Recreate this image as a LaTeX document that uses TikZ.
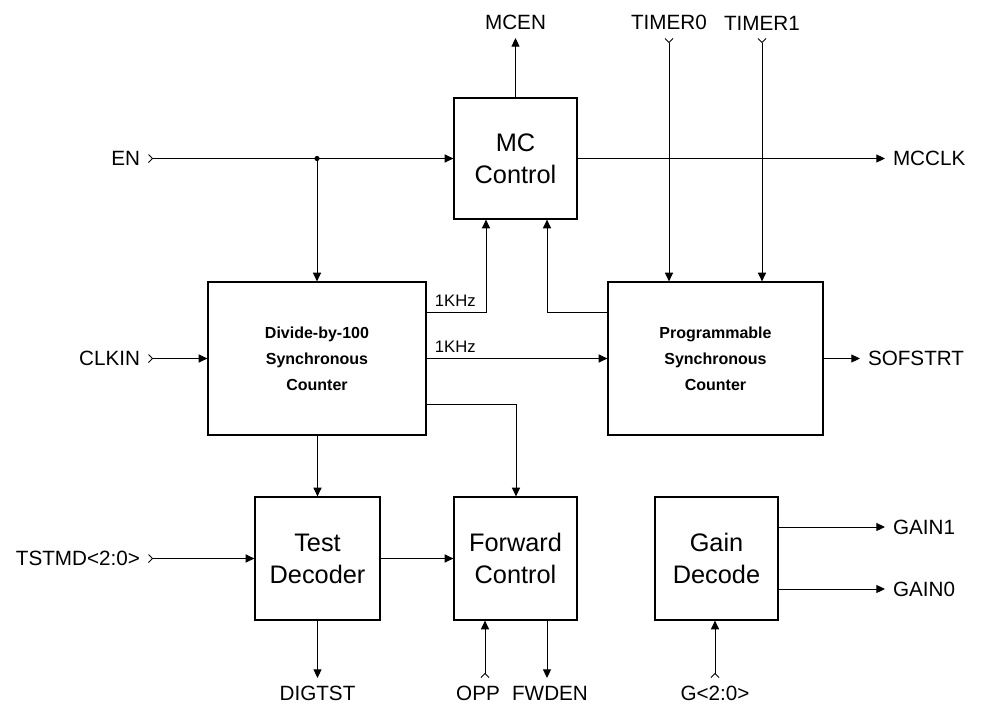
\documentclass[tikz,border=0pt]{standalone}
\usepackage{fontspec}
\setmainfont{Liberation Sans}
\usetikzlibrary{arrows.meta}

\begin{document}
\begin{tikzpicture}[x=0.75pt, y=-0.75pt, >={Triangle[length=6.5pt,width=6pt]},
	blk/.style={draw, line width=0.9pt, inner sep=0pt, align=center,
		font=\fontsize{19}{24}\selectfont},
	cntblk/.style={blk, font=\bfseries\fontsize{12}{19.5}\selectfont},
	sigtxt/.style={inner sep=0pt, outer sep=6pt, font=\fontsize{15.5}{18}\selectfont},
	freqtxt/.style={inner sep=0pt, font=\fontsize{12.5}{14}\selectfont},
	wire/.style={line width=0.75pt},
	inwire/.style={wire, {Straight Barb[reversed,length=3pt,width=6pt]}->}]
\useasboundingbox (0,0) rectangle (993,711);
%========================
% blocks
%========================
\node[blk, minimum width=92.25pt, minimum height=90.75pt] (mc) at (515.5,158.5) {MC\\Control};
\node[cntblk, minimum width=163.5pt, minimum height=114.75pt] (div) at (317,358.5) {Divide-by-100\\Synchronous\\Counter};
\node[cntblk, minimum width=161.25pt, minimum height=114.75pt] (prog) at (715.5,358.5) {Programmable\\Synchronous\\Counter};
\node[blk, minimum width=93.75pt, minimum height=92.25pt] (test) at (317.5,558.5) {Test\\Decoder};
\node[blk, minimum width=92.25pt, minimum height=92.25pt] (fwd) at (515.5,558.5) {Forward\\Control};
\node[blk, minimum width=92.25pt, minimum height=92.25pt] (gain) at (716.5,558.5) {Gain\\Decode};

%========================
% pin names
%========================
\node[sigtxt, anchor=east] (en) at (148,158.5) {EN};
\node[sigtxt, anchor=east] (clkin) at (148,358.5) {CLKIN};
\node[sigtxt, anchor=east] (tstmd) at (148,558.5) {TSTMD<2:0>};
\node[sigtxt, anchor=south] (mcen) at (515.5,38) {MCEN};
\node[sigtxt, anchor=south] (timer0) at (669,38) {TIMER0};
\node[sigtxt, anchor=south] (timer1) at (762,38) {TIMER1};
\node[sigtxt, anchor=west] (mcclk) at (885,158.5) {MCCLK};
\node[sigtxt, anchor=west] (sofstrt) at (860,358.5) {SOFSTRT};
\node[sigtxt, anchor=west] (gain1) at (885,527) {GAIN1};
\node[sigtxt, anchor=west] (gain0) at (885,589) {GAIN0};
\node[sigtxt, anchor=north] (digtst) at (317.5,678) {DIGTST};
\node[sigtxt, anchor=north] (opp) at (478,678) {OPP};
\node[sigtxt, anchor=north] (fwden) at (550,678) {FWDEN};
\node[sigtxt, anchor=north] (gbus) at (715,678) {G<2:0>};

% bend points
\coordinate (split) at (317,158.5);
\coordinate (k1) at (486,312);
\coordinate (k2) at (547,312);
\coordinate (k3) at (516,404);
\coordinate (oppin) at (485,678);
\coordinate (fwdout) at (547,678);

%========================
% wires
%========================
\draw[inwire] (en) -- (mc);
\fill (split) circle (2.6);
\draw[wire, ->] (split) -- (div.north);
\draw[inwire] (clkin) -- (div);
\draw[inwire] (tstmd) -- (test);
\draw[wire, ->] (mc) -- (mcen);
\draw[inwire] (timer0) -- (timer0 |- prog.north);
\draw[inwire] (timer1) -- (timer1 |- prog.north);
\draw[wire, ->] (mc) -- (mcclk);
\draw[wire, ->] (prog) -- (sofstrt);

% 1KHz clocks
\draw[wire, ->] (k1 -| div.east) -- (k1) -- (k1 |- mc.south);
\node[freqtxt, anchor=south west] at ([xshift=6pt, yshift=4pt]k1 -| div.east) {1KHz};
\draw[wire, ->] (div) -- (prog);
\node[freqtxt, anchor=south west] at ([xshift=6pt, yshift=4pt]div.east) {1KHz};
\draw[wire, ->] (k2 -| prog.west) -- (k2) -- (k2 |- mc.south);

% lower row
\draw[wire, ->] (div.south -| test.north) -- (test.north);
\draw[wire, ->] (k3 -| div.east) -- (k3) -- (k3 |- fwd.north);
\draw[wire, ->] (test) -- (fwd);
\draw[wire, ->] (test.south) -- (digtst);
\draw[inwire] (oppin) -- (oppin |- fwd.south);
\draw[wire, ->] (fwdout |- fwd.south) -- (fwdout);
\draw[inwire] (gbus) -- (gbus |- gain.south);
\draw[wire, ->] (gain.east |- gain1) -- (gain1);
\draw[wire, ->] (gain.east |- gain0) -- (gain0);
\end{tikzpicture}
\end{document}
